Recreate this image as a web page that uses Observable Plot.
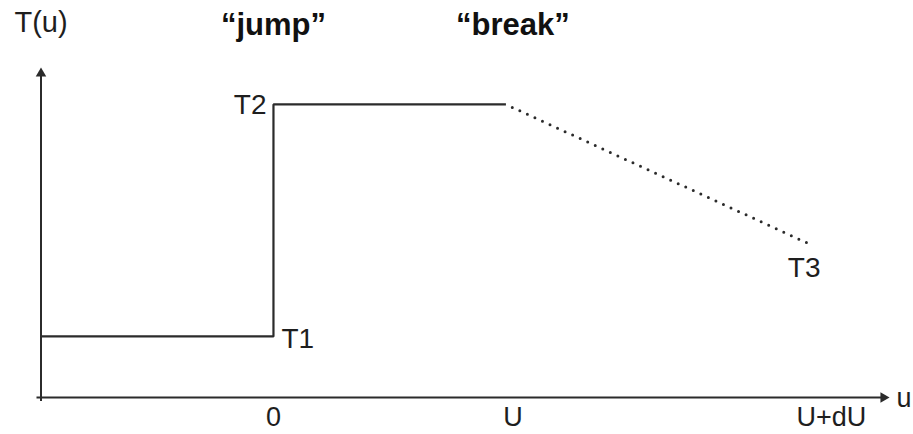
<!DOCTYPE html>
<html>
<head>
<meta charset="utf-8">
<script src="https://cdn.jsdelivr.net/npm/d3@7"></script>
<script src="https://cdn.jsdelivr.net/npm/@observablehq/plot@0.6"></script>
<style>
  html, body { margin: 0; padding: 0; background: #fff; }
  #chart svg { display: block; }
</style>
</head>
<body>
<div id="chart"></div>
<script>
// ---- data (abstract units: x in multiples of U, y as fraction of axis height) ----
const xStart = -1;          // left end of the u axis
const xJump = 0;            // the "jump" location
const xBreak = 1;           // the "break" location (U)
const xEnd = 2.3;           // end of dotted segment (near U+dU)
const xAxisEnd = 2.65;      // arrow tip of u axis
const yAxisEnd = 1;         // arrow tip of T axis

const T1 = 0.185;
const T2 = 0.888;
const T3 = 0.467;

const tickLabels = ["0", "U", "U+dU"];
const tickPositions = [0, 1.03, 2.4];

const topLabels = ["T(u)", "\u201cjump\u201d", "\u201cbreak\u201d"];
const topPositions = [xStart, xJump, xBreak + 0.03];
const topLevel = 1.135;

// ---- derived tables ----
const solid = [
  {x: xStart, y: T1}, {x: xJump, y: T1}, {x: xJump, y: T2}, {x: xBreak, y: T2}
];
const dotted = [{x: xBreak, y: T2}, {x: xEnd, y: T3}];
const ticks = tickLabels.map((t, i) => ({label: t, x: tickPositions[i]}));
const tops = topLabels.map((t, i) => ({label: t, x: topPositions[i], bold: i > 0}));

const ink = "#2b2b2b";
const txt = "#1e1e1e";
const font = "'Liberation Sans', Arial, Helvetica, sans-serif";

const chart = Plot.plot({
  width: 913,
  height: 434,
  margin: 0,
  style: {fontFamily: font, background: "#fff", overflow: "visible"},
  x: {domain: [xStart, xAxisEnd], range: [40.5, 889], axis: null},
  y: {domain: [0, yAxisEnd], range: [397, 67], axis: null},
  marks: [
    // axes
    Plot.ruleX([xStart], {y1: 0, y2: yAxisEnd, dy: 4, stroke: ink, strokeWidth: 2}),
    Plot.ruleY([0], {x1: xStart, x2: xAxisEnd, dx: -4, stroke: ink, strokeWidth: 2}),
    Plot.dot([{x: xStart, y: yAxisEnd}], {x: "x", y: "y", symbol: "triangle", r: 3.9, fill: ink, stroke: null, dy: 6}),
    Plot.dot([{x: xAxisEnd, y: 0}], {x: "x", y: "y", symbol: "triangle", r: 3.9, fill: ink, stroke: null, rotate: 90, dx: -6}),
    // T(u) profile
    Plot.line(solid, {x: "x", y: "y", stroke: ink, strokeWidth: 2.2, strokeLinejoin: "miter", strokeLinecap: "butt"}),
    Plot.line(dotted, {x: "x", y: "y", stroke: ink, strokeWidth: 3, strokeLinecap: "round", strokeDasharray: "0 8.3", strokeDashoffset: 1.3}),
    // level labels
    Plot.text([{x: xJump, y: T2}], {x: "x", y: "y", text: () => "T2", textAnchor: "end", dx: -7, dy: 1, fontSize: 28, fill: txt}),
    Plot.text([{x: xJump, y: T1}], {x: "x", y: "y", text: () => "T1", textAnchor: "start", dx: 8, dy: 3, fontSize: 28, fill: txt}),
    Plot.text([{x: xEnd, y: T3}], {x: "x", y: "y", text: () => "T3", textAnchor: "middle", dx: -4, dy: 25, fontSize: 28, fill: txt}),
    // tick labels
    Plot.text(ticks, {x: "x", y: 0, text: "label", textAnchor: "middle", dy: 20, fontSize: 27, fill: txt}),
    Plot.text([{x: xAxisEnd}], {x: "x", y: 0, text: () => "u", textAnchor: "start", dx: 7, dy: 1, fontSize: 27, fill: txt}),
    // top labels
    Plot.text(tops.filter(d => !d.bold), {x: "x", y: topLevel, text: "label", textAnchor: "middle", fontSize: 29, fill: txt}),
    Plot.text(tops.filter(d => d.bold), {x: "x", y: topLevel, text: "label", textAnchor: "middle", dy: 2, fontSize: 31, fontWeight: "bold", fill: "#111"})
  ]
});
document.getElementById("chart").appendChild(chart);
</script>
</body>
</html>
